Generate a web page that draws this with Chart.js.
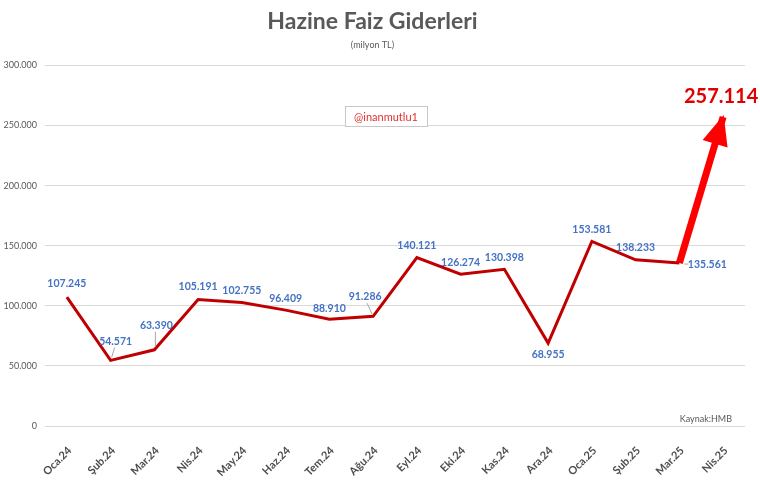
<!DOCTYPE html>
<html>
<head>
<meta charset="utf-8">
<script src="https://cdn.jsdelivr.net/npm/chart.js@4.4.1/dist/chart.umd.min.js"></script>
<style>
  body { margin: 0; background: #fff; }
  #wrap { width: 760px; height: 483px; }
</style>
</head>
<body>
<div id="wrap"><canvas id="faizChart" width="760" height="483"></canvas></div>
<script>
"use strict";

const months = ["Oca.24", "Şub.24", "Mar.24", "Nis.24", "May.24", "Haz.24", "Tem.24", "Ağu.24",
  "Eyl.24", "Eki.24", "Kas.24", "Ara.24", "Oca.25", "Şub.25", "Mar.25", "Nis.25"];
const giderler = [107245, 54571, 63390, 105191, 102755, 96409, 88910, 91286,
  140121, 126274, 130398, 68955, 153581, 138233, 135561, null];
const nisanSicrama = [null, null, null, null, null, null, null, null,
  null, null, null, null, null, null, 135561, 257114];
const yTicks = [0, 50000, 100000, 150000, 200000, 250000, 300000];

// label offsets from the point (px), leader = draw small gray line
const labelDx = [0, 5, 2, 0, 0, 0, 0, -8, 0, 0, 0, 0, 0, 0, 28, 0];
const labelDy = [-13, -19, -24, -13, -12, -12, -11, -20, -12, -12, -12, 11, -12, -12, 2, 0];
const leader = [false, true, true, false, false, false, false, true, false, false, false, false, false, false, true, false];

const FONT = "Lato, 'Open Sans', sans-serif";
const GRAY = "#595959";

function fmt(n) {
  return String(n).replace(/\B(?=(\d{3})+(?!\d))/g, ".");
}

const labelPlugin = {
  id: "labels",
  afterDatasetsDraw(chart) {
    const ctx = chart.ctx;
    const meta = chart.getDatasetMeta(0);
    ctx.save();
    ctx.textAlign = "center";
    ctx.textBaseline = "middle";
    ctx.font = "bold 10.5px " + FONT;
    meta.data.forEach((pt, i) => {
      const v = giderler[i];
      if (v === null) return;
      const lx = pt.x + labelDx[i];
      const ly = pt.y + labelDy[i];
      if (leader[i]) {
        ctx.strokeStyle = "#a6a6a6";
        ctx.lineWidth = 1;
        ctx.beginPath();
        if (labelDx[i] > 10) {
          ctx.moveTo(pt.x + 5, pt.y + 1);
          ctx.lineTo(lx - 19, pt.y + 1);
        } else if (labelDx[i] < 0) {
          ctx.moveTo(pt.x - 1, pt.y - 2);
          ctx.lineTo(pt.x - 6, ly + 7);
        } else {
          ctx.moveTo(pt.x + 1, pt.y - 3);
          ctx.lineTo(lx - 1, ly + 6);
        }
        ctx.stroke();
      }
      ctx.fillStyle = "#4472C4";
      ctx.fillText(fmt(v), lx, ly);
    });

    // arrow head + big label
    const m2 = chart.getDatasetMeta(1);
    const n = m2.data.length;
    const tip = m2.data[n - 1];
    const from = m2.data[n - 2];
    const ang = Math.atan2(tip.y - from.y, tip.x - from.x);
    const len = 28, half = 13;
    const bx = tip.x - Math.cos(ang) * len;
    const by = tip.y - Math.sin(ang) * len;
    ctx.fillStyle = "#FF0000";
    ctx.beginPath();
    ctx.moveTo(tip.x + Math.cos(ang) * 2, tip.y + Math.sin(ang) * 2);
    ctx.lineTo(bx + Math.sin(ang) * half, by - Math.cos(ang) * half);
    ctx.lineTo(bx - Math.sin(ang) * half, by + Math.cos(ang) * half);
    ctx.closePath();
    ctx.fill();

    ctx.fillStyle = "#E00000";
    ctx.font = "bold 20px " + FONT;
    ctx.fillText(fmt(nisanSicrama[n - 1]), tip.x - 2, tip.y - 20);

    // watermark box
    ctx.fillStyle = "#fff";
    ctx.fillRect(345, 106, 82, 20);
    ctx.strokeStyle = "#c8c8c8";
    ctx.lineWidth = 1;
    ctx.strokeRect(345.5, 106.5, 82, 20);
    ctx.fillStyle = "#E03030";
    ctx.font = "11px " + FONT;
    ctx.fillText("@inanmutlu1", 386, 117);

    // source
    ctx.fillStyle = GRAY;
    ctx.font = "9px " + FONT;
    ctx.textAlign = "right";
    ctx.fillText("Kaynak:HMB", 732, 419);
    ctx.restore();
  }
};

const ctx = document.getElementById("faizChart").getContext("2d");
new Chart(ctx, {
  type: "line",
  data: {
    labels: months,
    datasets: [
      {
        label: "Faiz Giderleri",
        data: giderler,
        borderColor: "#C00000",
        borderWidth: 3,
        pointRadius: 0,
        tension: 0,
        spanGaps: false
      },
      {
        label: "Nis.25",
        data: nisanSicrama,
        borderColor: "#FF0000",
        borderWidth: 7,
        borderCapStyle: "butt",
        pointRadius: 0,
        tension: 0
      }
    ]
  },
  options: {
    responsive: false,
    animation: false,
    devicePixelRatio: 1,
    layout: { padding: { left: 0, right: 15, top: 0, bottom: 0 } },
    plugins: {
      legend: { display: false },
      tooltip: { enabled: false },
      title: {
        display: true,
        text: "Hazine Faiz Giderleri",
        color: GRAY,
        font: { family: FONT, size: 23, weight: "bold" },
        padding: { top: 8, bottom: 1 }
      },
      subtitle: {
        display: true,
        text: "(milyon TL)",
        color: GRAY,
        font: { family: FONT, size: 9 },
        padding: { top: 3, bottom: 15 }
      }
    },
    scales: {
      x: {
        offset: true,
        grid: { display: false },
        border: { display: false },
        ticks: {
          color: "#4d4d4d",
          font: { family: FONT, size: 11, weight: "bold" },
          minRotation: 45,
          maxRotation: 45,
          labelOffset: 3,
          padding: 10,
          autoSkip: false
        },
        afterFit(scale) { scale.height = 57; }
      },
      y: {
        min: 0,
        max: 300000,
        afterBuildTicks(scale) { scale.ticks = yTicks.map(v => ({ value: v })); },
        grid: { color: "#d9d9d9", drawTicks: false, lineWidth: 1 },
        border: { display: false },
        ticks: {
          color: GRAY,
          font: { family: FONT, size: 9 },
          padding: 8,
          callback: v => fmt(v)
        },
        afterFit(scale) { scale.width = 45; }
      }
    }
  },
  plugins: [labelPlugin]
});
</script>
</body>
</html>
